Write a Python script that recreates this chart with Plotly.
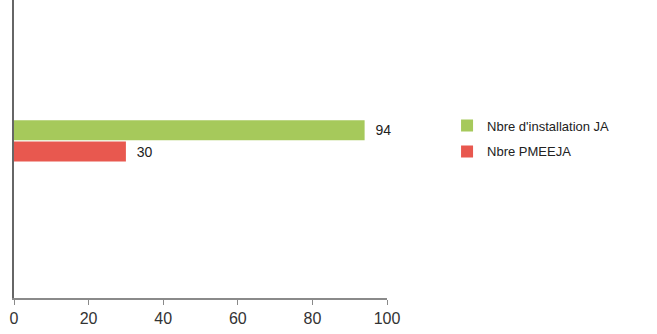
import plotly.graph_objects as go

# Single category, two series
category = ["JA"]
series_names = ["Nbre PMEEJA", "Nbre d'installation JA"]
series_values = [[30], [94]]
series_colors = ["#E8584F", "#A6C95B"]
legend_ranks = [2, 1]
x_ticks = [0, 20, 40, 60, 80, 100]

fig = go.Figure()
for i, (name, vals, col, rank) in enumerate(zip(series_names, series_values, series_colors, legend_ranks)):
    fig.add_trace(go.Bar(
        y=[0], x=vals, name=name, orientation="h",
        marker=dict(color=col, line=dict(width=0)),
        texttemplate="  %{x}", textposition="outside",
        textfont=dict(family="Liberation Sans, Arial", size=14, color="#222"),
        cliponaxis=False,
        legendgroup=f"g{i}", legendrank=rank,
    ))

fig.update_layout(
    width=657, height=334,
    margin=dict(l=14, r=270, t=0, b=36),
    paper_bgcolor="white", plot_bgcolor="white",
    barmode="group", bargap=0.0, bargroupgap=0.06,
    font=dict(family="Liberation Sans, Arial", size=14, color="#222"),
    xaxis=dict(
        range=[0, 100], tickvals=x_ticks, ticktext=[str(t) for t in x_ticks],
        showgrid=False, zeroline=False,
        showline=True, linecolor="#8a8a8a", linewidth=1.5,
        ticks="outside", ticklen=5, tickcolor="#8a8a8a",
        tickfont=dict(size=16, color="#333"),
    ),
    yaxis=dict(
        range=[-3.69, 3.31], showticklabels=False, showgrid=False,
        zeroline=False, showline=True, linecolor="#666", linewidth=2,
        ticks="",
    ),
    legend=dict(
        x=1.161, xanchor="left", y=0.535, yanchor="middle",
        traceorder="grouped", tracegroupgap=6,
        font=dict(size=13, color="#222"), itemwidth=30,
    ),
    showlegend=True,
)

fig.write_html("out.html")
